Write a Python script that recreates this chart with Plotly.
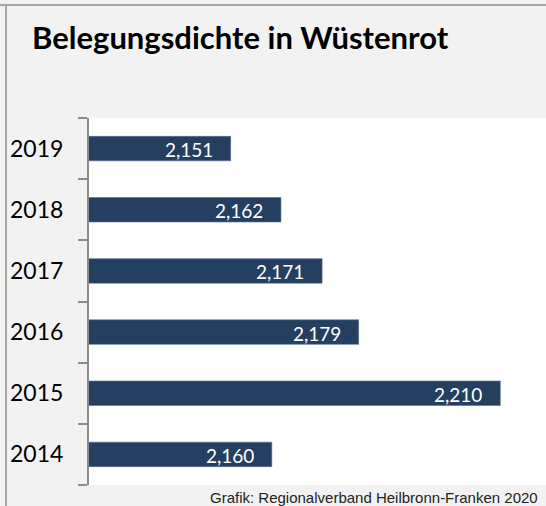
import plotly.graph_objects as go

years = ["2014", "2015", "2016", "2017", "2018", "2019"]
values = [2.160, 2.210, 2.179, 2.171, 2.162, 2.151]
labels = ["2,160", "2,210", "2,179", "2,171", "2,162", "2,151"]
title_text = "Belegungsdichte in Wüstenrot"
source_text = "Grafik: Regionalverband Heilbronn-Franken 2020"

W, H = 546, 506
ML, MR, MT, MB = 89, 0, 118, 21
pw, ph = W - ML - MR, H - MT - MB

def px_x(p):
    return (p - ML) / pw

def px_y(p):
    return (H - MB - p) / ph

fig = go.Figure()
fig.add_trace(go.Bar(
    x=values, y=years, orientation="h", width=0.4,
    marker=dict(color="#243f60", line=dict(color="#4f6f95", width=0.6)),
    hoverinfo="skip",
))

annotations = []
for i, (v, lab) in enumerate(zip(values, labels)):
    annotations.append(dict(x=v, y=i, xref="x", yref="y", text=lab,
                            showarrow=False, xanchor="right", xshift=-16, yshift=-1,
                            font=dict(family="Lato", size=19, color="white")))
annotations.append(dict(x=px_x(540), y=px_y(497), xref="paper", yref="paper",
                        text=source_text, showarrow=False, xanchor="right", yanchor="middle",
                        font=dict(family="Liberation Sans, Arial", size=15, color="#222222")))

shapes = [
    dict(type="line", xref="paper", yref="paper", x0=px_x(0), x1=px_x(W), y0=px_y(5), y1=px_y(5),
         line=dict(color="#a6a6a6", width=2)),
    dict(type="line", xref="paper", yref="paper", x0=px_x(6), x1=px_x(6), y0=px_y(4), y1=px_y(H),
         line=dict(color="#a6a6a6", width=2)),
]

fig.update_layout(
    width=W, height=H,
    margin=dict(l=ML, r=MR, t=MT, b=MB, pad=0),
    paper_bgcolor="#f2f2f2", plot_bgcolor="white",
    showlegend=False,
    title=dict(text="<b>" + title_text + "</b>", xref="container", yref="container",
               x=32 / W, xanchor="left", y=1 - 38 / H, yanchor="middle",
               font=dict(family="Lato", size=31, color="black")),
    xaxis=dict(range=[2.12, 2.22], showgrid=False, zeroline=False, showticklabels=False,
               ticks="", showline=False, fixedrange=True),
    yaxis=dict(type="category", categoryorder="array", categoryarray=years,
               range=[-0.5, len(years) - 0.5], autorange=False,
               showgrid=False, zeroline=False, showline=True, linecolor="#8c8c8c", linewidth=2,
               ticks="outside", ticklen=9, tickwidth=2, tickcolor="#8c8c8c",
               tickson="boundaries", ticklabelstandoff=19,
               tickfont=dict(family="Lato", size=23, color="black")),
    annotations=annotations,
    shapes=shapes,
)

fig.write_html("out.html", config={"displayModeBar": False},
               post_script="document.body.style.margin='0';")
